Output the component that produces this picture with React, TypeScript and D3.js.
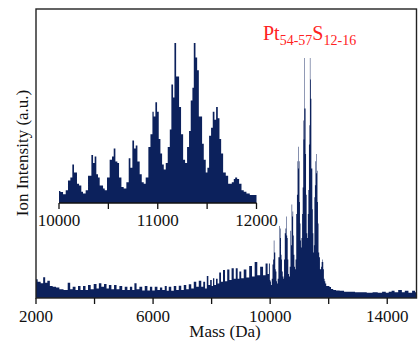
import React from "react";
import * as d3 from "d3";

// ---- data (relative ion intensity, tallest peak = 100) ----
const lowRegion: [number, number][] = [
  [2000, 7.8], [2114, 6.8], [2205, 6.1], [2285, 8.6], [2342, 6.4], [2433, 7.2], [2513, 5.0],
  [2627, 4.7], [2741, 4.4], [2855, 3.6], [3026, 3.3], [3140, 6.4], [3197, 3.6], [3311, 4.7],
  [3390, 3.3], [3481, 5.0], [3561, 3.3], [3652, 5.0], [3732, 3.3], [3823, 5.4], [3915, 3.6],
  [4028, 5.8], [4108, 4.0], [4188, 6.1], [4279, 4.7], [4370, 5.8], [4450, 4.0], [4530, 5.4],
  [4621, 3.6], [4712, 5.4], [4792, 3.6], [4906, 5.0], [4986, 3.3], [5077, 4.7], [5168, 3.3],
  [5248, 4.7], [5328, 3.3], [5396, 6.1], [5476, 3.6], [5590, 4.7], [5669, 3.1], [5761, 5.0],
  [5852, 3.1], [5932, 4.7], [6011, 3.1], [6103, 4.7], [6194, 3.3], [6274, 4.4], [6353, 3.3],
  [6444, 5.0],
];
const midRegion: [number, number][] = [
  [6490, 3.0], [6581, 4.7], [6661, 3.0], [6752, 5.0], [6832, 3.3], [6923, 5.1], [7003, 3.3],
  [7094, 5.4], [7173, 3.6], [7265, 5.7], [7344, 4.0], [7436, 6.8], [7515, 4.7], [7607, 7.2],
  [7686, 4.7], [7743, 6.8], [7812, 4.0], [7858, 9.2], [7920, 5.4], [7980, 7.5], [8030, 5.0],
  [8063, 8.2], [8120, 5.4], [8180, 8.0], [8230, 6.0], [8290, 10.6], [8350, 6.8], [8427, 11.7],
  [8490, 7.0], [8575, 11.9], [8640, 7.5], [8724, 12.4], [8790, 8.0], [8860, 12.4], [8920, 8.0],
  [8974, 11.0], [9050, 8.2], [9145, 11.9], [9230, 8.5], [9339, 13.3], [9420, 9.0], [9521, 15.0],
  [9600, 9.5], [9715, 13.0], [9800, 9.5], [9886, 14.4], [9940, 10.0], [9977, 14.4],
];
const clusterRegion: [number, number][] = [
  [10000, 7.5], [10014, 6.9], [10041, 5.4], [10068, 8], [10091, 14], [10115, 16], [10135, 24],
  [10152, 19], [10166, 19], [10182, 12], [10203, 11], [10226, 7], [10243, 6], [10270, 8],
  [10294, 17], [10311, 17], [10328, 30], [10345, 25], [10361, 29], [10378, 18], [10395, 16],
  [10412, 11], [10446, 9], [10463, 8], [10486, 16], [10513, 27], [10537, 29], [10554, 34],
  [10571, 26], [10591, 25], [10608, 16], [10632, 10], [10655, 9], [10682, 13], [10706, 28],
  [10723, 22], [10743, 39], [10760, 34], [10777, 36], [10794, 26], [10817, 18], [10838, 13],
  [10858, 12], [10878, 16], [10905, 35], [10926, 43], [10946, 57], [10959, 54], [10976, 63],
  [10993, 57], [11010, 40], [11027, 31], [11044, 24], [11061, 21], [11081, 25], [11101, 35],
  [11122, 46], [11138, 74], [11155, 66], [11169, 100], [11186, 79], [11203, 79], [11216, 60],
  [11236, 43], [11257, 27], [11277, 25], [11297, 35], [11317, 45], [11334, 64], [11351, 72],
  [11365, 100], [11382, 91], [11399, 83], [11416, 54], [11432, 54], [11449, 37], [11466, 27],
  [11486, 19], [11503, 22], [11520, 42], [11540, 47], [11557, 57], [11574, 52], [11591, 60],
  [11608, 53], [11625, 40], [11642, 31], [11662, 19], [11689, 17], [11713, 12], [11730, 12],
  [11750, 13], [11770, 15], [11784, 16], [11804, 15], [11824, 12], [11848, 8], [11871, 7],
  [11898, 6], [11932, 5], [11966, 5], [12000, 5],
];
const highRegion: [number, number][] = [
  [12050, 4.6], [12110, 3.8], [12200, 3.3], [12300, 3.1], [12450, 3.0], [12600, 2.6],
  [12800, 2.6], [13000, 2.4], [13200, 2.4], [13400, 2.2], [13600, 2.4], [13750, 2.2],
  [13900, 2.6], [14000, 2.2], [14100, 2.6], [14200, 3.0], [14300, 2.4], [14450, 3.3],
  [14550, 2.4], [14650, 3.0], [14800, 2.2], [14900, 3.0], [15000, 2.4],
];
const mainTicks = [2000, 4000, 6000, 8000, 10000, 12000, 14000];
const mainTickLabels = [2000, 6000, 10000, 14000];
const insetTicks = [10000, 10500, 11000, 11500, 12000];
const insetTickLabels = [10000, 11000, 12000];

const FILL = "#0c215c";
const FONT = "Liberation Serif, Times New Roman, DejaVu Serif, serif";

export default function App() {
  const spectrum = [...lowRegion, ...midRegion, ...clusterRegion, ...highRegion];

  const left = 36, right = 416.5, top = 9, bottom = 298;
  const x = d3.scaleLinear().domain([2000, 15000]).range([left, right]);
  const y = d3.scaleLinear().domain([0, 100]).range([bottom, 58]);

  const area = d3
    .area<[number, number]>()
    .x((d) => x(d[0]))
    .y0(bottom)
    .y1((d) => y(d[1]))
    .curve(d3.curveStep);

  const ix = d3.scaleLinear().domain([10000, 12000]).range([59, 256.5]);
  const iBase = 203;
  const iy = d3.scaleLinear().domain([0, 100]).range([iBase, 43]);
  const insetArea = d3
    .area<[number, number]>()
    .x((d) => ix(d[0]))
    .y0(iBase)
    .y1((d) => iy(d[1]))
    .curve(d3.curveStepAfter);

  const txt = { fontFamily: FONT };

  return (
    <svg
      width={420}
      height={343}
      style={{ position: "fixed", left: 0, top: 0, background: "#fff", fontFamily: FONT }}
    >
      <defs>
        <clipPath id="plotClip">
          <rect x={left} y={top} width={right - left} height={bottom - top} />
        </clipPath>
      </defs>
      <path d={area(spectrum) || ""} fill={FILL} clipPath="url(#plotClip)" />

      {/* inset */}
      <path d={insetArea(clusterRegion) || ""} fill={FILL} />
      <line x1={ix(10000)} x2={ix(12000)} y1={iBase} y2={iBase} stroke="#111" strokeWidth={1.3} />
      {insetTicks.map((t) => (
        <line key={t} x1={ix(t)} x2={ix(t)} y1={iBase} y2={iBase + 6} stroke="#111" strokeWidth={1.3} />
      ))}
      {insetTickLabels.map((t) => (
        <text key={t} x={ix(t)} y={226} fontSize={17} textAnchor="middle" fill="#111" style={txt}>
          {t}
        </text>
      ))}

      {/* frame */}
      <rect x={left} y={top} width={right - left} height={bottom - top} fill="none" stroke="#222" strokeWidth={1.4} />
      {mainTicks.map((t) => (
        <line key={t} x1={x(t)} x2={x(t)} y1={bottom} y2={bottom + 6} stroke="#111" strokeWidth={1.3} />
      ))}
      {mainTickLabels.map((t) => (
        <text key={t} x={x(t)} y={322} fontSize={17} textAnchor="middle" fill="#111" style={txt}>
          {t}
        </text>
      ))}
      <text x={225} y={337} fontSize={17} textAnchor="middle" fill="#111" style={txt}>
        Mass (Da)
      </text>
      <text
        transform="translate(27.5,153) rotate(-90)"
        fontSize={17}
        textAnchor="middle"
        fill="#111"
        style={txt}
      >
        Ion Intensity (a.u.)
      </text>

      <text x={263} y={40} fontSize={20} fill="#f22" style={txt}>
        Pt
        <tspan fontSize={14} dy={5}>54-57</tspan>
        <tspan fontSize={20} dy={-5}>S</tspan>
        <tspan fontSize={14} dy={5}>12-16</tspan>
      </text>
    </svg>
  );
}
